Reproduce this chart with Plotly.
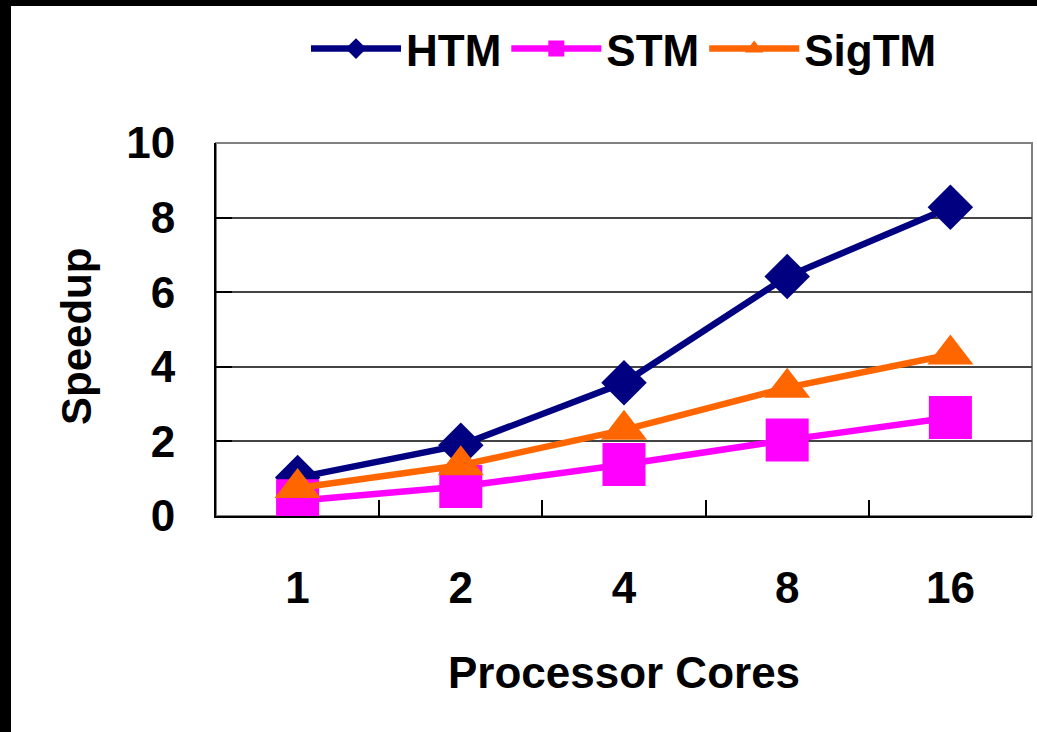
import plotly.graph_objects as go

categories = ["1", "2", "4", "8", "16"]
htm = [1.03, 1.90, 3.57, 6.42, 8.28]
stm = [0.41, 0.79, 1.38, 2.04, 2.64]
sigtm = [0.75, 1.36, 2.31, 3.44, 4.33]
y_ticks = [0, 2, 4, 6, 8, 10]

FONT = "Liberation Sans"
W, H = 1037, 732
L, R, T, B = 216, 1032, 143, 516

fig = go.Figure()
fig.add_trace(go.Scatter(x=categories, y=htm, name="HTM", mode="lines+markers",
                         line=dict(color="#000080", width=6.5),
                         marker=dict(symbol="diamond", size=35, color="#000080")))
fig.add_trace(go.Scatter(x=categories, y=stm, name="STM", mode="lines+markers",
                         line=dict(color="#FF00FF", width=6.5),
                         marker=dict(symbol="square", size=43, color="#FF00FF")))
fig.add_trace(go.Scatter(x=categories, y=sigtm, name="SigTM", mode="lines+markers",
                         line=dict(color="#FF6600", width=6.5),
                         marker=dict(symbol="triangle-up", size=40, color="#FF6600")))

ph = B - T
pw = R - L
# plot-area border (gray) and black image edges
fig.add_shape(type="rect", xref="paper", yref="paper", x0=0, x1=1, y0=0, y1=1,
              line=dict(color="#808080", width=2), layer="below")
fig.add_shape(type="rect", xref="paper", yref="paper",
              x0=-L / pw - 0.05, x1=(11 - L) / pw, y0=-1, y1=2,
              line=dict(width=0), fillcolor="black")
fig.add_shape(type="rect", xref="paper", yref="paper",
              x0=-1, x1=2, y0=1 + (T - 6) / ph, y1=1 + T / ph + 0.05,
              line=dict(width=0), fillcolor="black")

# y-axis title
fig.add_annotation(text="Speedup", xref="paper", yref="paper",
                   x=(76 - L) / pw, y=(B - 337) / ph, showarrow=False,
                   textangle=-90, xanchor="center", yanchor="middle",
                   font=dict(family=FONT, size=42, weight="bold", color="black"))

fig.update_layout(
    template="none",
    width=W, height=H,
    margin=dict(l=L, r=W - R, t=T, b=H - B, autoexpand=False),
    paper_bgcolor="white", plot_bgcolor="white",
    font=dict(family=FONT, size=44, color="black", weight="bold"),
    legend=dict(orientation="h", x=0.5, xanchor="center",
                y=1 + (T - 49) / ph, yanchor="middle",
                font=dict(family=FONT, size=44, weight="bold"),
                itemwidth=90, bgcolor="rgba(0,0,0,0)"),
    xaxis=dict(type="category", range=[-0.5, len(categories) - 0.5],
               tickson="boundaries", ticks="inside", ticklen=16,
               tickwidth=1.5, tickcolor="black", showline=True, linecolor="black",
               linewidth=2, showgrid=False, zeroline=False, automargin=False,
               ticklabelstandoff=32,
               tickfont=dict(family=FONT, size=44, weight="bold"),
               title=dict(text="Processor Cores", standoff=46,
                          font=dict(family=FONT, size=44, weight="bold"))),
    yaxis=dict(range=[0, 10], tickvals=y_ticks, ticks="inside", ticklen=16,
               tickwidth=1.5, tickcolor="black", showline=True, linecolor="black",
               linewidth=2, showgrid=True, gridcolor="#444444", gridwidth=1.5,
               zeroline=False, automargin=False, ticklabelstandoff=30,
               tickfont=dict(family=FONT, size=44, weight="bold")),
    showlegend=True,
)

fig.write_html("out.html", config={"displayModeBar": False},
               post_script="document.body.style.margin='0';document.body.style.overflow='hidden';")
